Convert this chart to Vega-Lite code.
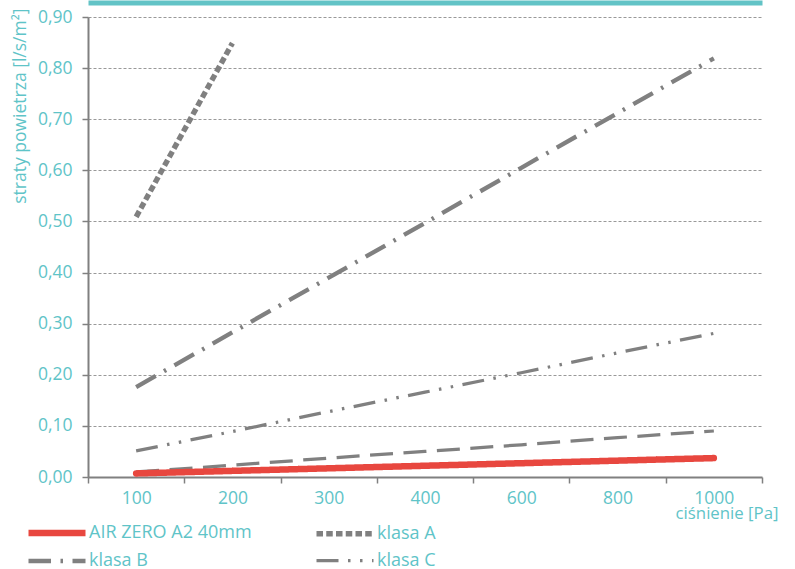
{
  "$schema": "https://vega.github.io/schema/vega-lite/v6.json",
  "width": 674,
  "height": 460,
  "autosize": "none",
  "padding": {"left": 88, "top": 17, "right": 33, "bottom": 92},
  "background": "white",
  "config": {"font": "Open Sans", "view": {"stroke": null}},
  "data": {
    "values": [
      {"series": "AIR ZERO A2 40mm", "p": 100, "v": 0.007},
      {"series": "AIR ZERO A2 40mm", "p": 200, "v": 0.012},
      {"series": "AIR ZERO A2 40mm", "p": 300, "v": 0.017},
      {"series": "AIR ZERO A2 40mm", "p": 400, "v": 0.022},
      {"series": "AIR ZERO A2 40mm", "p": 600, "v": 0.027},
      {"series": "AIR ZERO A2 40mm", "p": 800, "v": 0.032},
      {"series": "AIR ZERO A2 40mm", "p": 1000, "v": 0.037},
      {"series": "klasa A", "p": 100, "v": 0.509},
      {"series": "klasa A", "p": 200, "v": 0.849},
      {"series": "klasa B", "p": 100, "v": 0.176},
      {"series": "klasa B", "p": 200, "v": 0.283},
      {"series": "klasa B", "p": 300, "v": 0.390},
      {"series": "klasa B", "p": 400, "v": 0.497},
      {"series": "klasa B", "p": 600, "v": 0.605},
      {"series": "klasa B", "p": 800, "v": 0.712},
      {"series": "klasa B", "p": 1000, "v": 0.819},
      {"series": "klasa C", "p": 100, "v": 0.051},
      {"series": "klasa C", "p": 200, "v": 0.089},
      {"series": "klasa C", "p": 300, "v": 0.128},
      {"series": "klasa C", "p": 400, "v": 0.166},
      {"series": "klasa C", "p": 600, "v": 0.204},
      {"series": "klasa C", "p": 800, "v": 0.243},
      {"series": "klasa C", "p": 1000, "v": 0.281},
      {"series": "klasa D", "p": 100, "v": 0.010},
      {"series": "klasa D", "p": 200, "v": 0.023},
      {"series": "klasa D", "p": 300, "v": 0.037},
      {"series": "klasa D", "p": 400, "v": 0.050},
      {"series": "klasa D", "p": 600, "v": 0.063},
      {"series": "klasa D", "p": 800, "v": 0.077},
      {"series": "klasa D", "p": 1000, "v": 0.090}
    ]
  },
  "encoding": {
    "x": {
      "field": "p",
      "type": "ordinal",
      "scale": {"type": "band", "paddingInner": 0, "paddingOuter": 0},
      "axis": {
        "title": "ciśnienie [Pa]",
        "titleColor": "#5fc4c8",
        "titleFontSize": 16.8,
        "titleFontWeight": "normal",
        "titleX": 690,
        "titleY": 36,
        "titleAlign": "right",
        "titleBaseline": "middle",
        "labelColor": "#5fc4c8",
        "labelFontSize": 17.5,
        "labelPadding": 6,
        "labelAngle": 0,
        "tickBand": "extent",
        "tickColor": "#808080",
        "tickWidth": 1.5,
        "tickSize": 6,
        "domainColor": "#808080",
        "domainWidth": 2,
        "grid": false
      }
    },
    "y": {
      "field": "v",
      "type": "quantitative",
      "scale": {"domain": [0, 0.9]},
      "axis": {
        "title": "straty powietrza [l/s/m²]",
        "titleColor": "#5fc4c8",
        "titleFontSize": 17.5,
        "titleFontWeight": "normal",
        "titleAnchor": "end",
        "titleAlign": "right",
        "titleBaseline": "middle",
        "titleX": -68,
        "titleY": -9,
        "values": [0, 0.1, 0.2, 0.3, 0.4, 0.5, 0.6, 0.7, 0.8, 0.9],
        "labelExpr": "replace(format(datum.value, '.2f'), '.', ',')",
        "labelColor": "#5fc4c8",
        "labelFontSize": 17.5,
        "labelPadding": 10,
        "tickColor": "#808080",
        "tickWidth": 1.5,
        "tickSize": 6,
        "domainColor": "#808080",
        "domainWidth": 2,
        "gridColor": "#999999",
        "gridDash": [3, 2],
        "gridWidth": 1
      }
    }
  },
  "layer": [
    {
      "transform": [{"filter": "datum.series === 'klasa D'"}],
      "mark": {"type": "line", "color": "#808080", "strokeWidth": 3.25, "strokeDash": [23, 10.5]},
      "encoding": {
        "x": {
          "field": "p",
          "type": "ordinal",
          "scale": {"type": "band", "paddingInner": 0, "paddingOuter": 0},
          "axis": {
            "orient": "top",
            "title": null,
            "labels": false,
            "ticks": false,
            "grid": false,
            "domainColor": "#62c3c6",
            "domainWidth": 5,
            "offset": 14.5
          }
        }
      }
    },
    {
      "transform": [{"filter": "datum.series !== 'klasa D' && datum.series !== 'AIR ZERO A2 40mm'"}],
      "mark": {"type": "line", "strokeCap": "butt"},
      "encoding": {
        "color": {
          "field": "series",
          "type": "nominal",
          "scale": {"domain": ["AIR ZERO A2 40mm", "klasa A", "klasa B", "klasa C"], "range": ["#e8473f", "#808080", "#808080", "#808080"]},
          "legend": {
            "title": null,
            "orient": "none",
            "direction": "horizontal",
            "legendX": -63,
            "legendY": 503,
            "columns": 2,
            "columnPadding": 53,
            "rowPadding": 3,
            "symbolType": "M-1,0H5",
            "symbolSize": 361,
            "labelColor": "#5fc4c8",
            "labelFontSize": 18,
            "labelOffset": 38,
            "labelLimit": 400
          }
        },
        "strokeDash": {
          "field": "series",
          "type": "nominal",
          "scale": {"domain": ["AIR ZERO A2 40mm", "klasa A", "klasa B", "klasa C"], "range": [[1, 0], [6.5, 3.25], [22.5, 9.5, 2.5, 9.5], [22, 9.5, 2.5, 9.5, 2.5, 9.5]]},
          "legend": null
        },
        "strokeWidth": {
          "field": "series",
          "type": "nominal",
          "scale": {"domain": ["AIR ZERO A2 40mm", "klasa A", "klasa B", "klasa C"], "range": [6.5, 3.25, 3.25, 3.25]},
          "legend": null
        }
      }
    },
    {
      "transform": [{"filter": "datum.series === 'AIR ZERO A2 40mm'"}],
      "mark": {"type": "line", "strokeCap": "round"},
      "encoding": {
        "x": {
          "field": "p",
          "type": "ordinal",
          "scale": {"type": "band", "paddingInner": 0, "paddingOuter": 0},
          "axis": null
        },
        "color": {"field": "series", "type": "nominal"},
        "strokeDash": {"field": "series", "type": "nominal"},
        "strokeWidth": {"field": "series", "type": "nominal"}
      }
    }
  ],
  "resolve": {"axis": {"x": "independent"}}
}
